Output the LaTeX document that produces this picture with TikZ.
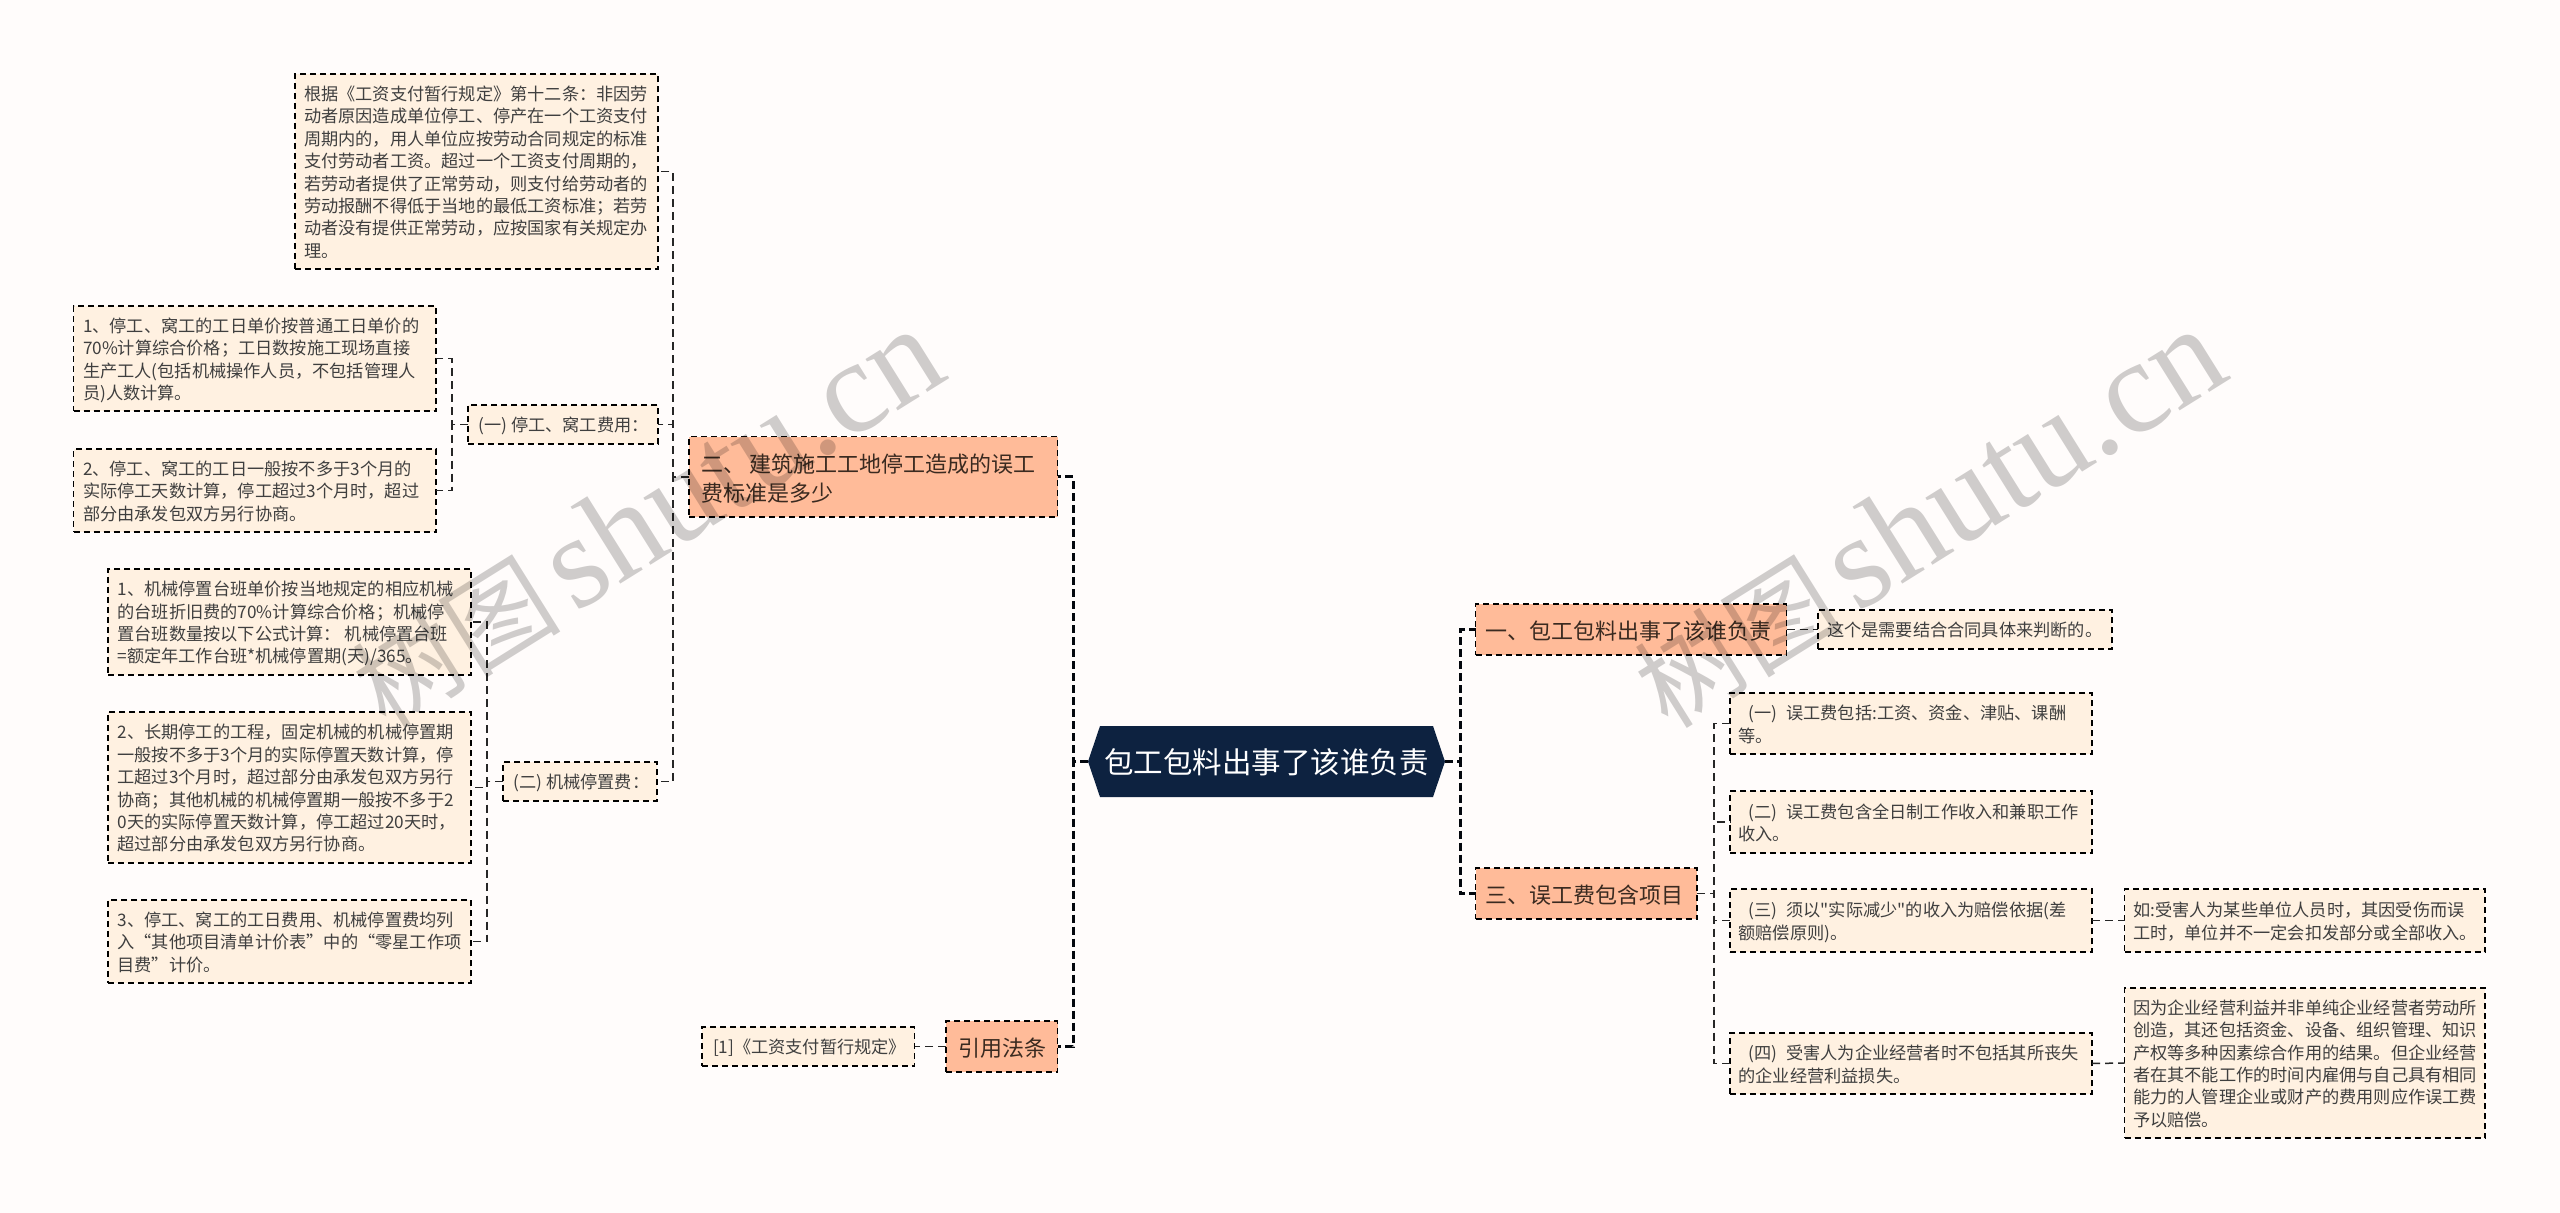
\documentclass[tikz,border=0pt]{standalone}
\usepackage{fontspec}
\setmainfont{Noto Sans CJK SC}
\newfontfamily\wmcjk{Noto Sans CJK SC}
\newfontfamily\wmlat{Liberation Serif}
\usetikzlibrary{calc}
\definecolor{bgc}{HTML}{FFFCFB}
\definecolor{creamc}{HTML}{FFF1E1}
\definecolor{orangec}{HTML}{FFBB99}
\definecolor{navyc}{HTML}{0D2240}
\definecolor{inkc}{HTML}{3F3F3F}
\definecolor{ink2c}{HTML}{3A2A20}
\newcommand{\fbx}[8]{% name style x1 y1 x2 y2 pad text
  \pgfmathsetmacro{\wbx}{#5-(#3)}\pgfmathsetmacro{\hbx}{#6-(#4)}
  \pgfmathsetmacro{\cxb}{(#3+#5)/2}\pgfmathsetmacro{\cyb}{(#4+#6)/2}
  \node[#2,minimum width=\wbx pt,minimum height=\hbx pt] (#1) at (\cxb,\cyb)
    {\makebox[\wbx pt][l]{\hspace{#7pt}\raisebox{-0.42em}[0pt][0pt]{\begin{tabular}{@{}l@{}}#8\end{tabular}}}};}
\newcommand{\sq}{{\wmcjk "}}
\newcommand{\wmtext}{{\fontsize{104}{120}\selectfont\wmcjk 树图}\hspace{14pt}{\fontsize{132}{140}\selectfont\wmlat shutu.cn}}
\tikzset{
  boxbase/.style={draw=black,line width=1.5pt,dash pattern=on 6pt off 4pt,inner sep=0pt,outer sep=0pt},
  leaf/.style={boxbase,fill=creamc,text=inkc,font=\fontsize{17.2}{22.4}\selectfont},
  branch/.style={boxbase,fill=orangec,text=ink2c,font=\fontsize{22}{29}\selectfont},
  rootshape/.style={fill=navyc},
  roottext/.style={text=white,font=\fontsize{29.5}{34}\selectfont,inner sep=0pt},
  mainline/.style={draw=black!80!navyc,line width=3pt,dash pattern=on 8pt off 4pt},
  subline/.style={draw=black!85,line width=1.5pt,dash pattern=on 8pt off 5pt},
  wm/.style={text=black,opacity=0.19,rotate=32,inner sep=0pt}
}
\begin{document}
\begin{tikzpicture}[x=1pt,y=-1pt]
\useasboundingbox[fill=bgc] (0,0) rectangle (2560,1213);
\coordinate (busL) at (673,0);
\coordinate (busM) at (1073,0);
\coordinate (busR) at (1460,0);
\coordinate (busA) at (452,0);
\coordinate (busB) at (487,0);
\coordinate (busT) at (1714,0);
% root
\fill[rootshape] (1088,761.5) -- (1100,726) -- (1433,726) -- (1445,761.5) -- (1433,797) -- (1100,797) -- cycle;
\node[roottext] (root) at (1266.5,762.5) {包工包料出事了该谁负责};
\coordinate (rootW) at (1088,761.5);
\coordinate (rootE) at (1445,761.5);
% boxes
\fbx{a}{leaf}{295}{74}{658}{269}{9}{根据《工资支付暂行规定》第十二条：非因劳\\动者原因造成单位停工、停产在一个工资支付\\周期内的，用人单位应按劳动合同规定的标准\\支付劳动者工资。超过一个工资支付周期的，\\若劳动者提供了正常劳动，则支付给劳动者的\\劳动报酬不得低于当地的最低工资标准；若劳\\动者没有提供正常劳动，应按国家有关规定办\\理。}
\fbx{bi}{leaf}{73.5}{306}{436}{411}{9.5}{1、停工、窝工的工日单价按普通工日单价的\\70\%计算综合价格；工日数按施工现场直接\\生产工人(包括机械操作人员，不包括管理人\\员)人数计算。}
\fbx{bii}{leaf}{73.5}{449}{436}{532}{9.5}{2、停工、窝工的工日一般按不多于3个月的\\实际停工天数计算，停工超过3个月时，超过\\部分由承发包双方另行协商。}
\fbx{subA}{leaf}{468}{405}{658}{444}{10.5}{(一) 停工、窝工费用：}
\fbx{ci}{leaf}{108}{569}{471}{675}{9.5}{1、机械停置台班单价按当地规定的相应机械\\的台班折旧费的70\%计算综合价格；机械停\\置台班数量按以下公式计算：\ 机械停置台班\\=额定年工作台班*机械停置期(天)/365。}
\fbx{cii}{leaf}{108}{712}{471}{863}{9.5}{2、长期停工的工程，固定机械的机械停置期\\一般按不多于3个月的实际停置天数计算，停\\工超过3个月时，超过部分由承发包双方另行\\协商；其他机械的机械停置期一般按不多于2\\0天的实际停置天数计算，停工超过20天时，\\超过部分由承发包双方另行协商。}
\fbx{ciii}{leaf}{108}{900}{471}{983}{9.5}{3、停工、窝工的工日费用、机械停置费均列\\入“其他项目清单计价表”中的“零星工作项\\目费”计价。}
\fbx{subB}{leaf}{503}{762}{657}{801}{10.5}{(二) 机械停置费：}
\fbx{er}{branch}{689}{436.5}{1057.5}{517}{12}{二、 建筑施工工地停工造成的误工\\费标准是多少}
\fbx{law}{branch}{946}{1021}{1057.5}{1072}{12}{引用法条}
\fbx{ref}{leaf}{702}{1027}{914.5}{1066}{11}{[1]《工资支付暂行规定》}
\fbx{yi}{branch}{1475.5}{604}{1786.5}{655}{10}{一、包工包料出事了该谁负责}
\fbx{yinote}{leaf}{1818}{610}{2112}{649}{9}{这个是需要结合合同具体来判断的。}
\fbx{san}{branch}{1475.5}{868}{1697}{919}{10}{三、误工费包含项目}
\fbx{ri}{leaf}{1730}{693}{2092}{754}{8.5}{\hspace*{10pt}(一)\hspace{9pt}误工费包括:工资、资金、津贴、课酬\\等。}
\fbx{rii}{leaf}{1730}{791}{2092}{853}{8.5}{\hspace*{10pt}(二)\hspace{9pt}误工费包含全日制工作收入和兼职工作\\收入。}
\fbx{riii}{leaf}{1730}{889}{2092}{952}{8.5}{\hspace*{10pt}(三)\hspace{9pt}须以\sq 实际减少\sq 的收入为赔偿依据(差\\额赔偿原则)。}
\fbx{riv}{leaf}{1730}{1033}{2092}{1094}{8.5}{\hspace*{10pt}(四)\hspace{9pt}受害人为企业经营者时不包括其所丧失\\的企业经营利益损失。}
\fbx{siii}{leaf}{2124.5}{889}{2485}{952}{8.5}{如:受害人为某些单位人员时，其因受伤而误\\工时，单位并不一定会扣发部分或全部收入。}
\fbx{siv}{leaf}{2124.5}{988}{2485}{1138}{8.5}{因为企业经营利益并非单纯企业经营者劳动所\\创造，其还包括资金、设备、组织管理、知识\\产权等多种因素综合作用的结果。但企业经营\\者在其不能工作的时间内雇佣与自己具有相同\\能力的人管理企业或财产的费用则应作误工费\\予以赔偿。}
% main connectors
\foreach \c in {er,law}
  \draw[mainline] (rootW) -- (busM |- rootW) -- (busM |- \c.east) -- (\c.east);
\foreach \c in {yi,san}
  \draw[mainline] (rootE) -- (busR |- rootE) -- (busR |- \c.west) -- (\c.west);
% second level
\foreach \c in {a,subA,subB}
  \draw[subline] (er.west) -- (busL |- er.west) -- (busL |- \c.east) -- (\c.east);
\foreach \c in {bi,bii}
  \draw[subline] (subA.west) -- (busA |- subA.west) -- (busA |- \c.east) -- (\c.east);
\foreach \c in {ci,cii,ciii}
  \draw[subline] (subB.west) -- (busB |- subB.west) -- (busB |- \c.east) -- (\c.east);
\draw[subline] (law.west) -- (ref.east);
\draw[subline] (yi.east) -- (yinote.west);
\foreach \c in {ri,rii,riii,riv}
  \draw[subline] (san.east) -- (busT |- san.east) -- (busT |- \c.west) -- (\c.west);
\draw[subline] (riii.east) -- (siii.west);
\draw[subline] (riv.east) -- (siv.west);
% watermark
\node[wm] (wmA) at (647,519) {\wmtext};
\node[wm] (wmB) at (1929,519) {\wmtext};
\end{tikzpicture}
\end{document}
